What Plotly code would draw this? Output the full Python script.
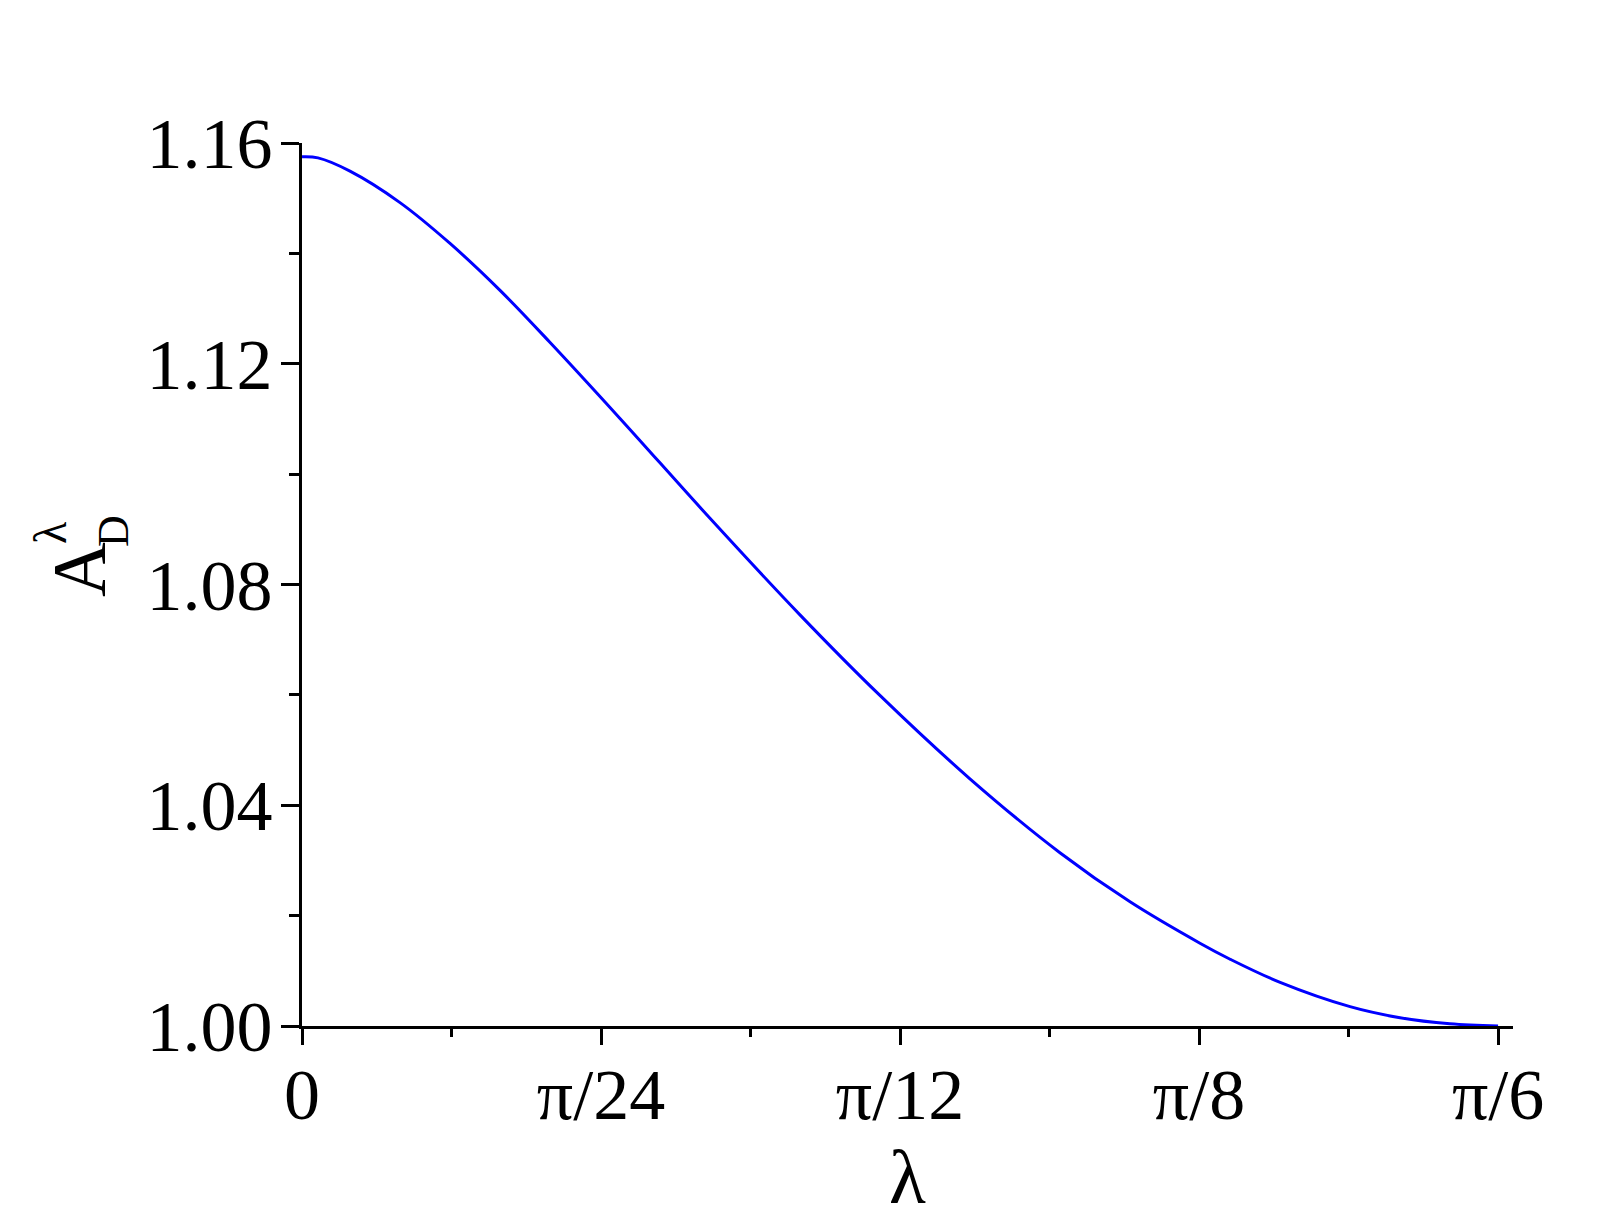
import numpy as np
import plotly.graph_objects as go

# lambda values (radians) and A_D^lambda values
lam = [0.0, 0.0070, 0.0210, 0.0429, 0.0648, 0.0867, 0.1085, 0.1392, 0.1786,
       0.2180, 0.2530, 0.2924, 0.3318, 0.3625, 0.3931, 0.4063, 0.4282,
       0.4588, 0.4807, 0.5025, 0.5236]
A_D = [1.1575, 1.1573, 1.1549, 1.1492, 1.1418, 1.1333, 1.1239, 1.1101,
       1.0920, 1.0745, 1.0599, 1.0448, 1.0314, 1.0225, 1.0150, 1.0121,
       1.0079, 1.0035, 1.0015, 1.0004, 1.0000]

x_tickvals = [0, np.pi / 24, np.pi / 12, np.pi / 8, np.pi / 6]
x_ticktext = ["0", "π/24", "π/12", "π/8", "π/6"]
x_minor = [np.pi / 48, 3 * np.pi / 48, 5 * np.pi / 48, 7 * np.pi / 48]
y_tickvals = [1.00, 1.04, 1.08, 1.12, 1.16]
y_minor = [1.02, 1.06, 1.10, 1.14]

W, H = 1609, 1232
L, R, T, B = 302, 96, 143, 206
pw, ph = W - L - R, H - T - B

def px(xp):
    return (xp - L) / pw

def py(yp):
    return (H - B - yp) / ph

FONT = "Liberation Serif"

fig = go.Figure()
fig.add_trace(go.Scatter(x=lam, y=A_D, mode="lines",
                         line=dict(color="#0000FF", width=3, shape="spline", smoothing=1.0),
                         showlegend=False))

fig.update_layout(
    width=W, height=H,
    margin=dict(l=L, r=R, t=T, b=B),
    paper_bgcolor="white", plot_bgcolor="white",
    font=dict(family=FONT, color="black"),
    xaxis=dict(
        range=[0, 4.05 * np.pi / 24],
        tickvals=x_tickvals, ticktext=x_ticktext,
        ticks="outside", ticklen=16, tickwidth=2.5, tickcolor="black",
        minor=dict(tickvals=x_minor, ticks="outside", ticklen=8, tickwidth=2.5, tickcolor="black"),
        showline=True, linecolor="black", linewidth=3,
        showgrid=False, zeroline=False,
        tickfont=dict(size=72, family=FONT),
        ticklabelstandoff=-12,
        title=dict(text="λ", font=dict(size=76, family=FONT), standoff=0),
    ),
    yaxis=dict(
        range=[1.0, 1.16],
        tickvals=y_tickvals, tickformat=".2f",
        ticks="outside", ticklen=18, tickwidth=2.5, tickcolor="black",
        minor=dict(tickvals=y_minor, ticks="outside", ticklen=10, tickwidth=2.5, tickcolor="black"),
        showline=True, linecolor="black", linewidth=3,
        showgrid=False, zeroline=False,
        tickfont=dict(size=72, family=FONT),
        ticklabelstandoff=-6,
    ),
)

# y-axis title A_D^λ built from stacked pieces
fig.add_annotation(text="A", x=px(79), y=py(570), xref="paper", yref="paper",
                   showarrow=False, textangle=-90, font=dict(size=76, family=FONT),
                   xanchor="center", yanchor="middle")
fig.add_annotation(text="D", x=px(113), y=py(531), xref="paper", yref="paper",
                   showarrow=False, textangle=-90, font=dict(size=44, family=FONT),
                   xanchor="center", yanchor="middle")
fig.add_annotation(text="λ", x=px(50), y=py(533), xref="paper", yref="paper",
                   showarrow=False, textangle=-90, font=dict(size=46, family=FONT),
                   xanchor="center", yanchor="middle")

fig.write_html("out.html")
